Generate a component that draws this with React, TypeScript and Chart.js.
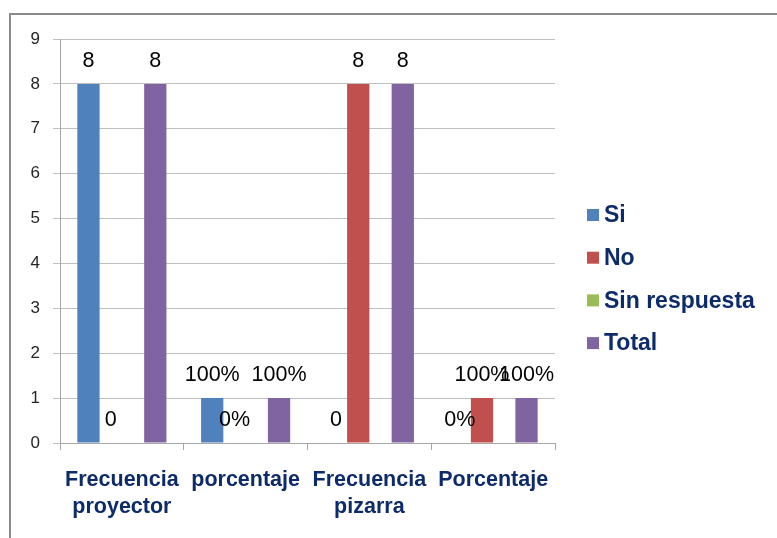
import React, { useEffect, useRef } from "react";
import { Chart, registerables } from "chart.js";

Chart.register(...registerables);

const categories: string[][] = [["Frecuencia", "proyector"], ["porcentaje"], ["Frecuencia", "pizarra"], ["Porcentaje"]];
const seriesNames = ["Si", "No", "Sin respuesta", "Total"];
const siValues = [8, 1, 0, 0];
const noValues = [0, 0, 8, 1];
const sinRespuestaValues: (number | null)[] = [null, null, null, null];
const totalValues = [8, 1, 8, 1];
const siLabels = ["8", "100%", "0", "0%"];
const noLabels = ["0", "0%", "8", "100%"];
const sinRespuestaLabels: (string | null)[] = [null, null, null, null];
const totalLabels = ["8", "100%", "8", "100%"];
const seriesColors = ["#4F81BD", "#C0504D", "#9BBB59", "#8064A2"];
const yMin = 0;
const yMax = 9;
const yStep = 1;

const allLabels = [siLabels, noLabels, sinRespuestaLabels, totalLabels];

const dataLabelPlugin = {
  id: "dataLabels",
  afterDatasetsDraw(chart: any) {
    const ctx = chart.ctx;
    ctx.save();
    ctx.font = "21.5px 'Liberation Sans', Arial, sans-serif";
    ctx.fillStyle = "#000000";
    ctx.textAlign = "center";
    ctx.textBaseline = "middle";
    chart.data.datasets.forEach((_ds: any, i: number) => {
      const meta = chart.getDatasetMeta(i);
      meta.data.forEach((bar: any, j: number) => {
        const label = allLabels[i][j];
        if (label == null) return;
        ctx.fillText(label, bar.x, bar.y - 23);
      });
    });
    ctx.restore();
  },
};

const legendPlugin = {
  id: "customLegend",
  afterDraw(chart: any) {
    const ctx = chart.ctx;
    const area = chart.chartArea;
    ctx.save();
    ctx.font = "bold 23px 'Liberation Sans', Arial, sans-serif";
    ctx.textBaseline = "middle";
    ctx.textAlign = "left";
    const x0 = area.right + 32;
    const y0 = area.top + 176;
    const spacing = 42.7;
    seriesNames.forEach((name, i) => {
      const cy = y0 + i * spacing;
      ctx.fillStyle = seriesColors[i];
      ctx.fillRect(x0, cy - 6, 12, 12);
      ctx.fillStyle = "#0D2B6B";
      ctx.fillText(name, x0 + 17, cy + 1);
    });
    ctx.restore();
  },
};

export default function App() {
  const ref = useRef<HTMLCanvasElement>(null);
  useEffect(() => {
    if (!ref.current) return;
    const chart = new Chart(ref.current, {
      type: "bar",
      data: {
        labels: categories as any,
        datasets: [
          { label: seriesNames[0], data: siValues, backgroundColor: seriesColors[0] },
          { label: seriesNames[1], data: noValues, backgroundColor: seriesColors[1] },
          { label: seriesNames[2], data: sinRespuestaValues, backgroundColor: seriesColors[2] },
          { label: seriesNames[3], data: totalValues, backgroundColor: seriesColors[3] },
        ],
      },
      options: {
        responsive: false,
        animation: false,
        datasets: { bar: { categoryPercentage: 0.72, barPercentage: 1.0 } } as any,
        layout: { padding: { top: 39, right: 222, bottom: 0, left: 0 } },
        plugins: { legend: { display: false }, tooltip: { enabled: false } },
        scales: {
          x: {
            afterFit: (scale: any) => {
              scale.height = 95;
            },
            grid: { display: true, drawOnChartArea: false, drawTicks: true, tickLength: 7, offset: true, color: "#A6A6A6" },
            border: { display: true, color: "#A6A6A6", width: 1 },
            ticks: {
              padding: 17,
              color: "#0D2B6B",
              font: { family: "'Liberation Sans', Arial, sans-serif", size: 21.5, weight: "bold", lineHeight: 1.25 },
              maxRotation: 0,
              autoSkip: false,
            },
          },
          y: {
            min: yMin,
            max: yMax,
            afterFit: (scale: any) => {
              scale.width = 60;
            },
            grid: { color: "#BFBFBF", drawTicks: true, tickLength: 7 },
            border: { display: true, color: "#A6A6A6", width: 1 },
            ticks: {
              stepSize: yStep,
              padding: 13,
              color: "#262626",
              font: { family: "'Liberation Sans', Arial, sans-serif", size: 17 },
            },
          },
        },
      },
      plugins: [dataLabelPlugin, legendPlugin],
    });
    return () => chart.destroy();
  }, []);

  return (
    <div style={{ position: "fixed", left: 0, top: 0, width: 777, height: 538, background: "#ffffff", overflow: "hidden" }}>
      <div
        style={{
          position: "absolute",
          left: 9,
          top: 13,
          width: 780,
          height: 540,
          borderTop: "2px solid #8A8A8A",
          borderLeft: "2px solid #8A8A8A",
        }}
      />
      <canvas ref={ref} width={777} height={538} style={{ position: "absolute", left: 0, top: 0 }} />
    </div>
  );
}
